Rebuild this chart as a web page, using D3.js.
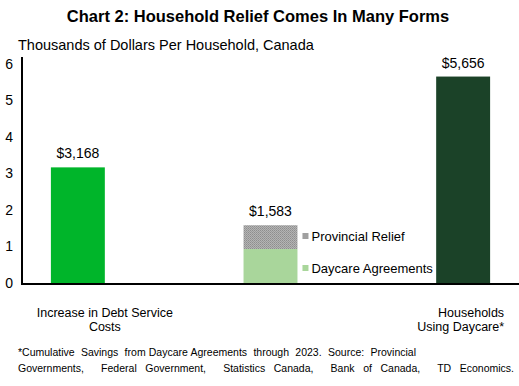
<!DOCTYPE html>
<html>
<head>
<meta charset="utf-8">
<script src="https://cdn.jsdelivr.net/npm/d3@7"></script>
<style>
  body { margin: 0; background: #fff; }
  text { font-family: "Liberation Sans", Arial, sans-serif; fill: #000; }
</style>
</head>
<body>
<script>
const width = 519
const height = 386

const categories = ['debt', 'relief', 'daycare']
const categoryLabels = [['Increase in Debt Service', 'Costs'], ['', ''], ['Households', 'Using Daycare*']]
const totals = [3.168, 1.583, 5.656]
const totalLabels = ['$3,168', '$1,583', '$5,656']
const daycareAgreements = [0, 0.93, 0]
const provincialRelief = [0, 0.653, 0]
const yTicks = [0, 1, 2, 3, 4, 5, 6]
const footnote = [
  '*Cumulative  Savings  from Daycare Agreements  through  2023.  Source:  Provincial',
  'Governments,  Federal Government,  Statistics Canada,  Bank of Canada,  TD Economics.'
]

const svg = d3.select('body').append('svg')
  .attr('width', width)
  .attr('height', height)

const defs = svg.append('defs')
const pat = defs.append('pattern')
  .attr('id', 'dots')
  .attr('width', 2)
  .attr('height', 2)
  .attr('patternUnits', 'userSpaceOnUse')
pat.append('rect').attr('width', 2).attr('height', 2).attr('fill', '#b4b4b4')
pat.append('rect').attr('width', 1).attr('height', 1).attr('fill', '#8e8e8e')
pat.append('rect').attr('x', 1).attr('y', 1).attr('width', 1).attr('height', 1).attr('fill', '#9a9a9a')

const x = d3.scaleBand()
  .domain(categories)
  .range([22, 519])
  .paddingInner(0.72)
  .paddingOuter(0.15)

const y = d3.scaleLinear()
  .domain([0, 6])
  .range([283, 64])

// title
svg.append('text')
  .attr('x', 258)
  .attr('y', 22)
  .attr('text-anchor', 'middle')
  .style('font-weight', 'bold')
  .style('font-size', '16.5px')
  .text('Chart 2: Household Relief Comes In Many Forms')

svg.append('text')
  .attr('x', 18)
  .attr('y', 50)
  .style('font-size', '14.5px')
  .text('Thousands of Dollars Per Household, Canada')

// y tick labels
svg.selectAll('.ytick')
  .data(yTicks)
  .enter()
  .append('text')
  .attr('class', 'ytick')
  .attr('x', 13)
  .attr('y', d => y(d))
  .attr('dy', '0.35em')
  .attr('text-anchor', 'end')
  .style('font-size', '14px')
  .text(d => d)

// single bars
const singles = categories.map((c, i) => ({ c, v: totals[i] }))
const colors = { debt: '#00b52a', daycare: '#1b4228' }
svg.selectAll('.bar')
  .data(singles.filter(d => d.c !== 'relief'))
  .enter()
  .append('rect')
  .attr('class', 'bar')
  .attr('x', d => x(d.c))
  .attr('width', x.bandwidth())
  .attr('y', d => y(d.v))
  .attr('height', d => y(0) - y(d.v))
  .attr('fill', d => colors[d.c])

// stacked bar
const idx = categories.indexOf('relief')
const stackData = [
  { key: 'Daycare Agreements', lo: 0, hi: daycareAgreements[idx], fill: '#a9d69b' },
  { key: 'Provincial Relief', lo: daycareAgreements[idx], hi: daycareAgreements[idx] + provincialRelief[idx], fill: 'url(#dots)' }
]
svg.selectAll('.stack')
  .data(stackData)
  .enter()
  .append('rect')
  .attr('class', 'stack')
  .attr('x', x('relief'))
  .attr('width', x.bandwidth())
  .attr('y', d => y(d.hi))
  .attr('height', d => y(d.lo) - y(d.hi))
  .attr('fill', d => d.fill)

// inline legend
const legendX = x('relief') + x.bandwidth() + 5
const legendYs = [236, 268]
const legendItems = [stackData[1], stackData[0]]
legendItems.forEach((d, i) => {
  svg.append('rect')
    .attr('x', legendX)
    .attr('y', legendYs[i] - 3)
    .attr('width', 6)
    .attr('height', 6)
    .attr('fill', d.fill === 'url(#dots)' ? '#a0a0a0' : d.fill)
  svg.append('text')
    .attr('x', legendX + 9)
    .attr('y', legendYs[i])
    .attr('dy', '0.35em')
    .style('font-size', '13px')
    .text(d.key)
})

// value labels
svg.selectAll('.val')
  .data(categories)
  .enter()
  .append('text')
  .attr('class', 'val')
  .attr('x', d => x(d) + x.bandwidth() / 2)
  .attr('y', (d, i) => y(totals[i]) - 9)
  .attr('text-anchor', 'middle')
  .style('font-size', '14px')
  .text((d, i) => totalLabels[i])

// axes lines
svg.append('line')
  .attr('x1', 22).attr('x2', 22)
  .attr('y1', 57).attr('y2', 285)
  .attr('stroke', '#000').attr('stroke-width', 2)
svg.append('line')
  .attr('x1', 21).attr('x2', 519)
  .attr('y1', 284).attr('y2', 284)
  .attr('stroke', '#000').attr('stroke-width', 2)

// category labels (first centred a bit right of its bar, last right-aligned)
const labelAnchor = ['middle', 'middle', 'end']
const labelX = [x('debt') + x.bandwidth() / 2 + 27, 0, x('daycare') + x.bandwidth() + 14]
categories.forEach((c, i) => {
  categoryLabels[i].forEach((line, j) => {
    if (!line) return
    svg.append('text')
      .attr('x', labelX[i])
      .attr('y', 317 + j * 14)
      .attr('text-anchor', labelAnchor[i])
      .style('font-size', '12.5px')
      .text(line)
  })
})

// footnote, stretched to the reference's justified widths
const footWidths = [398, 496]
footnote.forEach((line, i) => {
  const t = svg.append('text')
    .attr('x', 18)
    .attr('y', 356 + i * 16)
    .style('font-size', '10.5px')
    .style('white-space', 'pre')
    .text(line)
  const len = t.node().getComputedTextLength()
  const gaps = (line.match(/ /g) || []).length
  const ws = Math.max(0, (footWidths[i] - len) / gaps)
  t.style('word-spacing', ws + 'px')
})
</script>
</body>
</html>
